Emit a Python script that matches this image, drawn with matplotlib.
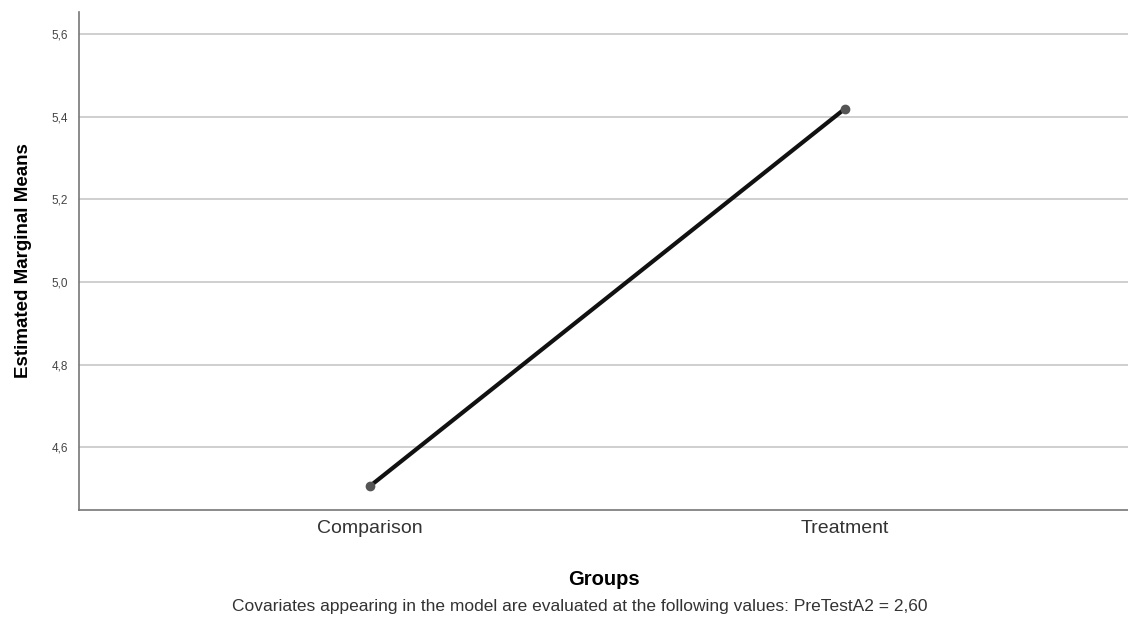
import matplotlib.pyplot as plt

# данные
groups = ['Comparison', 'Treatment']
means = [4.506, 5.419]
yticks = [4.6, 4.8, 5.0, 5.2, 5.4, 5.6]
ytick_labels = ['4,6', '4,8', '5,0', '5,2', '5,4', '5,6']

plt.rcParams['font.family'] = ['Liberation Sans', 'DejaVu Sans']
fig = plt.figure(figsize=(11.28, 6.3), dpi=100)
ax = fig.add_axes([0.070, 0.1905, 0.93, 0.7905])

x = list(range(len(groups)))
ax.plot(x, means, color='#111111', lw=3, zorder=3)
ax.plot(x, means, 'o', color='#555555', ms=6, zorder=4)

ax.set_xlim(-0.613, 1.596)
ax.set_ylim(4.448, 5.653)
ax.set_yticks(yticks)
ax.set_yticklabels(ytick_labels, fontsize=8.5, color='#444444')
ax.set_xticks(x)
ax.set_xticklabels(groups, fontsize=14, color='#333333')
ax.tick_params(axis='y', length=0, pad=8)
ax.tick_params(axis='x', length=0, pad=7)
ax.grid(axis='y', color='#cccccc', lw=1.3)
ax.set_axisbelow(True)

for s in ['top', 'right']:
    ax.spines[s].set_visible(False)
for s in ['left', 'bottom']:
    ax.spines[s].set_color('#777777')
    ax.spines[s].set_linewidth(1.2)

ax.set_ylabel('Estimated Marginal Means', fontsize=13.5, fontweight='bold', labelpad=14)
ax.set_xlabel('Groups', fontsize=14.5, fontweight='bold', labelpad=24)
fig.text(0.514, 0.03, 'Covariates appearing in the model are evaluated at the following values: PreTestA2 = 2,60',
         ha='center', fontsize=12.5, color='#333333')

fig.savefig('out.png', dpi=100)
